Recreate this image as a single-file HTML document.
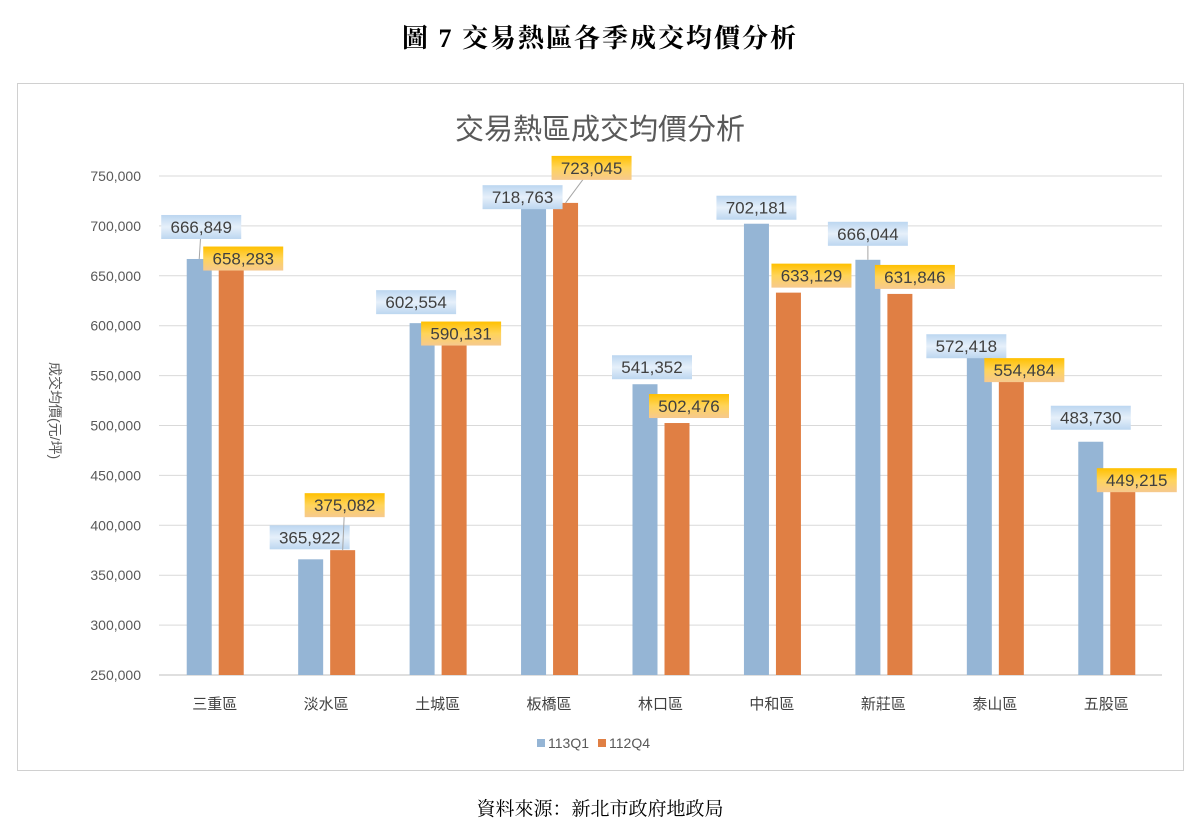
<!DOCTYPE html>
<html><head><meta charset="utf-8">
<style>
body{margin:0;background:#fff;width:1200px;height:833px;overflow:hidden;font-family:"Liberation Sans","Noto Sans CJK TC",sans-serif;}
.t{position:absolute;}
</style></head>
<body>
<div class="t" style="left:0;width:1200px;top:18px;text-align:center;font-family:'Liberation Serif','Noto Serif CJK SC',serif;font-size:26px;font-weight:bold;color:#000;letter-spacing:2px;">圖 7 交易熱區各季成交均價分析</div>
<div class="t" style="left:0;width:1200px;top:794px;text-align:center;font-family:'Liberation Serif','Noto Serif CJK SC',serif;font-size:19px;color:#000;">資料來源：新北市政府地政局</div>
<svg id="chart" width="1200" height="833" style="position:absolute;left:0;top:0" xmlns="http://www.w3.org/2000/svg">
<defs>
<linearGradient id="gb" x1="0" y1="0" x2="0" y2="1"><stop offset="0" stop-color="#bcd6f0"/><stop offset="0.5" stop-color="#e6f0fa"/><stop offset="1" stop-color="#bcd6f0"/></linearGradient>
<linearGradient id="go" x1="0" y1="0" x2="0" y2="1"><stop offset="0" stop-color="#ffc000"/><stop offset="0.5" stop-color="#ffd45a"/><stop offset="1" stop-color="#f6c98e"/></linearGradient>
</defs>
<rect x="17.5" y="83.5" width="1166" height="687" fill="#fff" stroke="#d0d0d0"/>
<text x="600" y="139" text-anchor="middle" font-size="29" fill="#595959" font-family="Liberation Sans, Noto Sans CJK TC, sans-serif">交易熱區成交均價分析</text>
<g id="grid"></g><g id="bars"></g><g id="labels"></g>
<text transform="translate(50,362) rotate(90)" font-size="14" fill="#595959" font-family="Liberation Sans, Noto Sans CJK TC, sans-serif">成交均價(元/坪)</text>
<g>
<rect x="537" y="739" width="8" height="8" fill="#95b5d5"/>
<text x="548" y="748" font-size="14" fill="#595959">113Q1</text>
<rect x="598" y="739" width="8" height="8" fill="#e07f44"/>
<text x="609" y="748" font-size="14" fill="#595959">112Q4</text>
</g>
</svg>
<script>
const categories=["三重區","淡水區","土城區","板橋區","林口區","中和區","新莊區","泰山區","五股區"];
const q1Values=[666849,365922,602554,718763,541352,702181,666044,572418,483730];
const q4Values=[658283,375082,590131,723045,502476,633129,631846,554484,449215];
const yTicks=[250000,300000,350000,400000,450000,500000,550000,600000,650000,700000,750000];
// label offsets (layout)
const q1Off=[[2,-32],[-1,-22],[-6,-21],[-11,-10],[7,-17],[0,-16],[0,-26],[-13,-7],[0,-24]];
const q4Off=[[12,-9],[2,-45],[7,-2],[26,-35],[12,-17],[23,-17],[15,-17],[13,-1],[14,4]];
const NS="http://www.w3.org/2000/svg";
const X0=159,X1=1162,Y0=675,Y1=176,YMIN=250000,YMAX=750000;
const bw=(X1-X0)/categories.length;
function y(v){return Y0-(v-YMIN)/(YMAX-YMIN)*(Y0-Y1);}
function xc(i){return X0+bw*(i+0.5);}
function mk(tag,attrs,parent){const e=document.createElementNS(NS,tag);for(const k in attrs)e.setAttribute(k,attrs[k]);parent.appendChild(e);return e;}
const grid=document.getElementById('grid'),bars=document.getElementById('bars'),labels=document.getElementById('labels');
yTicks.forEach(t=>{
  const l=mk('line',{x1:X0,x2:X1,y1:y(t),y2:y(t),stroke:t===YMIN?'#bfbfbf':'#d9d9d9','stroke-width':1},grid);
  
  
  const tx=mk('text',{x:141,y:y(t)+5,'text-anchor':'end','font-size':14,fill:'#595959'},grid);
  tx.textContent=t.toLocaleString('en-US');
  
  
});
const fmt=v=>v.toLocaleString('en-US');
function label(cx,top,v,off,grad,name){
  const lx=cx+off[0],ly=top+off[1];
  if(Math.abs(off[1])>25){
    const ln=mk('line',{x1:cx,y1:top,x2:lx,y2:ly,stroke:'#a6a6a6','stroke-width':1},labels);
    
    
  }
  const r=mk('rect',{x:lx-40,y:ly-12,width:80,height:24,fill:grad},labels);
  
  
  const t=mk('text',{x:lx,y:ly+6,'text-anchor':'middle','font-size':17,fill:'#404040'},labels);
  t.textContent=fmt(v);
  
  
}
categories.forEach((c,i)=>{
  const cx=xc(i);
  const b1=mk('rect',{x:cx-28,y:y(q1Values[i]),width:25,height:Y0-y(q1Values[i]),fill:'#95b5d5'},bars);
  
  
  const b2=mk('rect',{x:cx+4,y:y(q4Values[i]),width:25,height:Y0-y(q4Values[i]),fill:'#e07f44'},bars);
  
  
  const xt=mk('text',{x:cx,y:709,'text-anchor':'middle','font-size':15,fill:'#404040'},bars);
  xt.textContent=c;
  
  
});
categories.forEach((c,i)=>{
  const cx=xc(i);
  label(cx-15.5,y(q1Values[i]),q1Values[i],q1Off[i],'url(#gb)','value-label-113q1');
  label(cx+16.5,y(q4Values[i]),q4Values[i],q4Off[i],'url(#go)','value-label-112q4');
});
</script>
</body></html>
